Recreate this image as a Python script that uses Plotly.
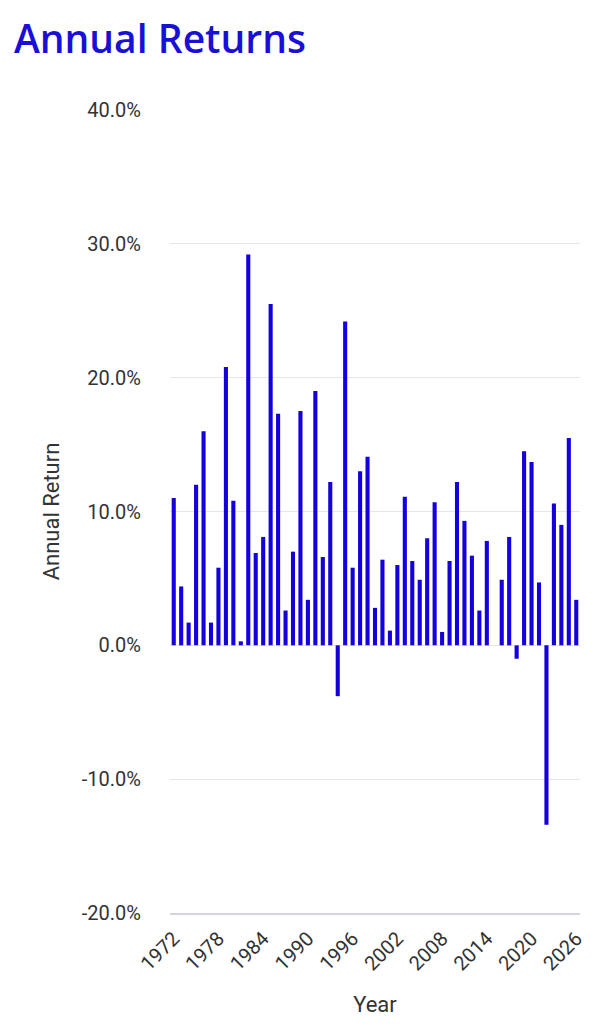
import plotly.graph_objects as go

years = list(range(1972, 2027))
returns = [
    11.0, 4.4, 1.7, 12.0, 16.0, 1.7, 5.8, 20.8, 10.8, 0.3,
    29.2, 6.9, 8.1, 25.5, 17.3, 2.6, 7.0, 17.5, 3.4, 19.0,
    6.6, 12.2, -3.8, 24.2, 5.8, 13.0, 14.1, 2.8, 6.4, 1.1,
    6.0, 11.1, 6.3, 4.9, 8.0, 10.7, 1.0, 6.3, 12.2, 9.3,
    6.7, 2.6, 7.8, 0.0, 4.9, 8.1, -1.0, 14.5, 13.7, 4.7,
    -13.4, 10.6, 9.0, 15.5, 3.4,
]
x_ticks = list(range(1972, 2027, 6))
y_ticks = [-20, -10, 0, 10, 20, 30, 40]

blue = "#1400dc"

fig = go.Figure()
fig.add_trace(go.Bar(x=years, y=returns, marker_color=blue, marker_line_width=0))

# page body has an 8px margin all round, so keep the figure inside the window
fig.update_layout(
    width=578, height=1016,
    paper_bgcolor="white", plot_bgcolor="white",
    margin=dict(l=162, r=6, t=102, b=111),
    bargap=0.45,
    showlegend=False,
    font=dict(family="Roboto", size=20, color="#333333"),
    title=dict(text="Annual Returns", x=6/578, xanchor="left",
               y=1 - 31/1016, yanchor="middle",
               font=dict(family="Open Sans", size=39, weight=600, color="#1a0fd6")),
)
fig.update_layout(title_xref="container")
fig.update_xaxes(
    range=[1971.5, 2026.5], tickvals=x_ticks, ticktext=[str(v) for v in x_ticks],
    tickangle=-45, showgrid=False, zeroline=False,
    automargin=False, ticklabeloverflow="allow",
    showline=True, linecolor="#d3d3e3", linewidth=2,
    ticks="outside", ticklen=4, tickcolor="rgba(0,0,0,0)",
    title=dict(text="Year", font=dict(size=22), standoff=22),
)
fig.update_yaxes(
    range=[-20, 40], tickvals=y_ticks, ticktext=[f"{v:.1f}%" for v in y_ticks],
    showgrid=True, gridcolor="#e6e6e6", gridwidth=1,
    zeroline=True, zerolinecolor="#e6e6e6", zerolinewidth=1,
    automargin=False,
    ticks="outside", ticklen=24, tickcolor="rgba(0,0,0,0)",
    title=dict(text="Annual Return", font=dict(size=22), standoff=16),
)

fig.write_html("out.html")
